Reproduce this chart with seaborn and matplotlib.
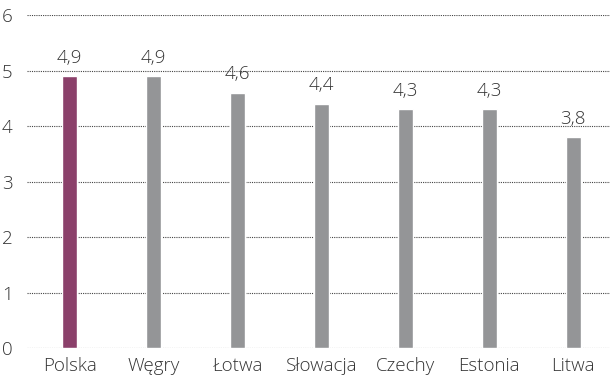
import pandas as pd
import seaborn as sns
import matplotlib.pyplot as plt

countries = ['Polska', 'Węgry', 'Łotwa', 'Słowacja', 'Czechy', 'Estonia', 'Litwa']
values = [4.9, 4.9, 4.6, 4.4, 4.3, 4.3, 3.8]
labels = ['4,9', '4,9', '4,6', '4,4', '4,3', '4,3', '3,8']
y_ticks = [0, 1, 2, 3, 4, 5, 6]


def main():
    sns.set_style('white')
    plt.rcParams['font.family'] = ['Open Sans', 'DejaVu Sans']
    df = pd.DataFrame({'country': countries, 'value': values})
    colors = ['#97336b'] + ['#939598'] * (len(countries) - 1)

    fig = plt.figure(figsize=(6.1, 3.76), dpi=100)
    ax = fig.add_axes([0.044, 0.074, 0.956, 0.886])
    sns.barplot(x='country', y='value', data=df, hue='country', palette=colors,
                width=0.18, legend=False, ax=ax, zorder=3)

    for i, (v, lab) in enumerate(zip(values, labels)):
        ax.text(i, v + 0.17, lab, ha='center', va='bottom', fontsize=13.5,
                color='#333333', fontweight='light')

    ax.set_ylim(0, 6)
    ax.set_xlim(-0.51, 6.44)
    ax.set_yticks(y_ticks)
    ax.set_yticklabels([str(t) for t in y_ticks])
    for t in y_ticks:
        ax.axhline(t, color='#444444', lw=0.8, ls=(0, (1, 1)), zorder=1)
    sns.despine(ax=ax, left=True, bottom=True)
    ax.tick_params(axis='both', length=0, labelsize=13.5, colors='#333333')
    ax.tick_params(axis='x', pad=6)
    ax.set_xlabel('')
    ax.set_ylabel('')
    for lab in ax.get_xticklabels() + ax.get_yticklabels():
        lab.set_fontweight('light')
    for lab in ax.get_yticklabels():
        lab.set_horizontalalignment('center')
    ax.tick_params(axis='y', pad=14)
    fig.savefig('out.png', dpi=100)


if __name__ == '__main__':
    main()
